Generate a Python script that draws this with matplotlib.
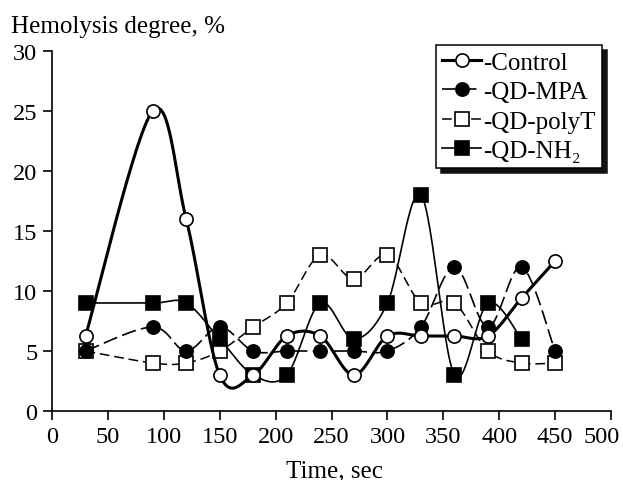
import numpy as np
import matplotlib
matplotlib.use("Agg")
import matplotlib.pyplot as plt
import matplotlib.transforms as mtrans

plt.rcParams['font.family'] = ['Liberation Serif', 'DejaVu Serif']
plt.rcParams['mathtext.fontset'] = 'custom'
plt.rcParams['mathtext.rm'] = 'Liberation Serif'
plt.rcParams['lines.scale_dashes'] = False

time_sec = [30, 90, 120, 150, 180, 210, 240, 270, 300, 330, 360, 390, 420, 450]
control = [6.25, 25, 16, 3, 3, 6.25, 6.25, 3, 6.25, 6.25, 6.25, 6.25, 9.4, 12.5]
qd_mpa = [5, 7, 5, 7, 5, 5, 5, 5, 5, 7, 12, 7, 12, 5]
qd_polyt = [5, 4, 4, 5, 7, 9, 13, 11, 13, 9, 9, 5, 4, 4]
time_nh2 = [30, 90, 120, 150, 180, 210, 240, 270, 300, 330, 360, 390, 420]
qd_nh2 = [9, 9, 9, 6, 3, 3, 9, 6, 9, 18, 3, 9, 6]

labels = ['-Control', '-QD-MPA', '-QD-polyT', '-QD-NH\u2082']
x_ticks = list(range(0, 501, 50))
y_ticks = list(range(0, 31, 5))

W, H = 623, 481
fig = plt.figure(figsize=(W/100, H/100), dpi=100)
ax = fig.add_axes([52/W, 1-412/H, 559/W, 360/H])
ax.set_xlim(0, 500)
ax.set_ylim(0, 30)


def smooth(ax, xs, ys, n=30):
    pts = ax.transData.transform(np.column_stack([xs, ys]))
    P = np.vstack([pts[0], pts, pts[-1]])
    out = []
    t = np.linspace(0, 1, n)[:, None]
    for i in range(1, len(P)-2):
        p0, p1, p2, p3 = P[i-1], P[i], P[i+1], P[i+2]
        b1 = p1 + (p2-p0)/6
        b2 = p2 - (p3-p1)/6
        seg = (1-t)**3*p1 + 3*(1-t)**2*t*b1 + 3*(1-t)*t**2*b2 + t**3*p2
        out.append(seg if i == 1 else seg[1:])
    out = np.vstack(out)
    res = ax.transData.inverted().transform(out)
    return res[:, 0], res[:, 1]


series = [
    (time_sec, qd_polyt, dict(color='black', lw=1.1, ls=(0, (7, 3.5))), dict(marker='s', mfc='white'), 2),
    (time_sec, qd_mpa, dict(color='black', lw=1.2, ls=(0, (10.5, 3.8))), dict(marker='o', mfc='black'), 3),
    (time_nh2, qd_nh2, dict(color='black', lw=1.2, ls='-'), dict(marker='s', mfc='black'), 4),
    (time_sec, control, dict(color='black', lw=2.2, ls='-'), dict(marker='o', mfc='white'), 5),
]

handles = {}
for xs, ys, lkw, mkw, z in series:
    sx, sy = smooth(ax, xs, ys)
    ax.plot(sx, sy, zorder=z, **lkw)
    ax.plot(xs, ys, ls='none', ms=9.5, mec='black', mew=1.2, zorder=z+0.5, **mkw)
    h, = ax.plot([], [], ms=9.5, mec='black', mew=1.2, **lkw, **mkw)
    handles[z] = h

order = [5, 3, 2, 4]
leg = fig.legend([handles[k] for k in order], labels,
                 loc='upper right', bbox_to_anchor=(602/W, 1-46/H),
                 bbox_transform=fig.transFigure, borderaxespad=0,
                 fontsize=18, handlelength=1.55, handletextpad=0.1,
                 labelspacing=0.28, borderpad=0.24, numpoints=1,
                 fancybox=False, framealpha=1, edgecolor='black',
                 shadow={'ox': 3.6, 'oy': -3.6, 'color': '#111111', 'alpha': 1})
leg.get_frame().set_linewidth(1.1)

for s in ['top', 'right']:
    ax.spines[s].set_visible(False)
for s in ['left', 'bottom']:
    ax.spines[s].set_linewidth(1.2)
ax.set_xticks(x_ticks)
ax.set_yticks(y_ticks)
ax.tick_params(direction='out', length=6.5, width=1.2, labelsize=17.5, pad=4)

last = ax.xaxis.get_major_ticks()[-1].label1
last.set_transform(last.get_transform() + mtrans.ScaledTranslation(-9/100, 0, fig.dpi_scale_trans))

fig.text(11/W, 1-33/H, 'Hemolysis degree, %', fontsize=18, va='baseline', ha='left')
fig.text(334/W, 1-477/H, 'Time, sec', fontsize=18, va='baseline', ha='center')

fig.savefig('out.png', dpi=100)
